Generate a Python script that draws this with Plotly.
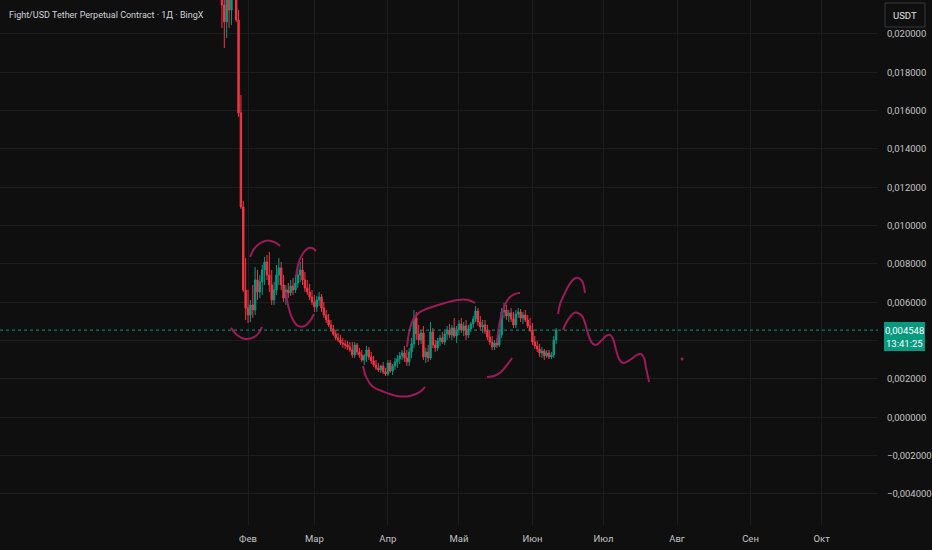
import pandas as pd
import plotly.graph_objects as go

# daily candles, Fight/USDT perp, starting 2026-01-21
start_day = "2026-01-21"

open_ = [0.022296, 0.021513, 0.020626, 0.022035, 0.021252, 0.023339, 0.023861, 0.020730, 0.015878, 0.010974, 0.006644,
         0.005704, 0.005339, 0.005861, 0.005600, 0.007165, 0.006539, 0.007061, 0.007687, 0.008104, 0.007426,
         0.006904, 0.006122, 0.006644, 0.007426, 0.007791, 0.006904, 0.006226, 0.006644, 0.006487, 0.006852,
         0.006644, 0.007009, 0.007426, 0.007687, 0.007165, 0.006748, 0.006539, 0.006278, 0.006017, 0.005756,
         0.006122, 0.006278, 0.005704, 0.005339, 0.005078, 0.004817, 0.004609, 0.004348, 0.004139, 0.004035,
         0.003878, 0.003826, 0.003774, 0.003670, 0.003513, 0.003252, 0.003774, 0.003409, 0.003252, 0.002991,
         0.003200, 0.003513, 0.003148, 0.002939, 0.002730, 0.002574, 0.002470, 0.002678, 0.002365, 0.002261,
         0.002835, 0.002417, 0.002678, 0.002887, 0.003044, 0.003200, 0.003357, 0.003096, 0.002887, 0.003409,
         0.003826, 0.005183, 0.004348, 0.004035, 0.004400, 0.003148, 0.003409, 0.003096, 0.004452, 0.003774,
         0.003617, 0.003983, 0.004139, 0.003930, 0.004348, 0.004557, 0.004296, 0.004661, 0.004243, 0.004557,
         0.004870, 0.004557, 0.004765, 0.004296, 0.004609, 0.004870, 0.005130, 0.005548, 0.004974, 0.004713,
         0.004817, 0.004504, 0.004191, 0.003930, 0.003670, 0.003878, 0.003774, 0.004296, 0.005496, 0.005600,
         0.005287, 0.005443, 0.005130, 0.004817, 0.005391, 0.005496, 0.005183, 0.005339, 0.005078, 0.004765,
         0.004557, 0.003930, 0.003722, 0.003565, 0.003357, 0.003461, 0.003200, 0.003357, 0.003148, 0.003252, 0.004035]

high = [0.023078, 0.022296, 0.022817, 0.023339, 0.023861, 0.024904, 0.024644, 0.021252, 0.016817, 0.011287, 0.008313,
        0.006644, 0.006122, 0.006904, 0.007844, 0.007687, 0.007426, 0.007948, 0.008365, 0.008470, 0.008626,
        0.007687, 0.007061, 0.007948, 0.008313, 0.008104, 0.007426, 0.006904, 0.007009, 0.007165, 0.007270,
        0.007426, 0.007791, 0.008104, 0.008313, 0.007583, 0.007165, 0.006957, 0.006644, 0.006383, 0.006330,
        0.006539, 0.006435, 0.006017, 0.005600, 0.005391, 0.005078, 0.004817, 0.004557, 0.004400, 0.004296,
        0.004139, 0.004035, 0.003983, 0.003930, 0.003930, 0.003930, 0.003878, 0.003617, 0.003513, 0.003304,
        0.003722, 0.003670, 0.003409, 0.003200, 0.002991, 0.002835, 0.002730, 0.002887, 0.002574, 0.002991,
        0.002991, 0.002783, 0.003096, 0.003252, 0.003409, 0.003513, 0.003722, 0.003513, 0.003617, 0.004139,
        0.005600, 0.005496, 0.004817, 0.004557, 0.004765, 0.003617, 0.003774, 0.004974, 0.004661, 0.004035,
        0.004139, 0.004296, 0.004452, 0.004557, 0.004765, 0.004870, 0.004817, 0.005183, 0.004765, 0.005078,
        0.005183, 0.004974, 0.005078, 0.004817, 0.004974, 0.005287, 0.005809, 0.005704, 0.005287, 0.005078,
        0.005078, 0.004817, 0.004557, 0.004243, 0.004035, 0.004139, 0.004557, 0.005704, 0.005965, 0.005861,
        0.005600, 0.005704, 0.005496, 0.005600, 0.005704, 0.005652, 0.005496, 0.005600, 0.005339, 0.005183,
        0.004922, 0.004243, 0.003983, 0.003826, 0.003670, 0.003565, 0.003513, 0.003513, 0.003409, 0.004243, 0.004661]

low = [0.020313, 0.019270, 0.019791, 0.020313, 0.020470, 0.021931, 0.020626, 0.015670, 0.010870, 0.006539, 0.005078,
       0.004922, 0.004974, 0.005183, 0.005339, 0.006122, 0.006226, 0.006383, 0.006904, 0.007165, 0.006539,
       0.005861, 0.005861, 0.006383, 0.006904, 0.006644, 0.006017, 0.005861, 0.006226, 0.006330, 0.006383,
       0.006487, 0.006748, 0.007061, 0.006904, 0.006539, 0.006383, 0.006122, 0.005861, 0.005496, 0.005496,
       0.005809, 0.005496, 0.005183, 0.004922, 0.004713, 0.004452, 0.004243, 0.004035, 0.003930, 0.003774,
       0.003617, 0.003565, 0.003513, 0.003409, 0.003096, 0.003096, 0.003252, 0.003096, 0.002887, 0.002730,
       0.002887, 0.002991, 0.002783, 0.002626, 0.002470, 0.002365, 0.002313, 0.002261, 0.002157, 0.002157,
       0.002313, 0.002209, 0.002470, 0.002574, 0.002783, 0.002991, 0.002887, 0.002678, 0.002678, 0.003096,
       0.003617, 0.004035, 0.003774, 0.003826, 0.002991, 0.002835, 0.002887, 0.002991, 0.003617, 0.003409,
       0.003461, 0.003722, 0.003826, 0.003774, 0.004035, 0.004139, 0.004035, 0.004139, 0.003878, 0.004296,
       0.004400, 0.004243, 0.004035, 0.004139, 0.004452, 0.004661, 0.004974, 0.004765, 0.004557, 0.004400,
       0.004348, 0.004035, 0.003774, 0.003513, 0.003513, 0.003617, 0.003670, 0.004139, 0.005183, 0.005078,
       0.004974, 0.004974, 0.004661, 0.004661, 0.005183, 0.004974, 0.004870, 0.004974, 0.004661, 0.004452,
       0.003774, 0.003565, 0.003409, 0.003148, 0.003096, 0.002991, 0.003096, 0.003044, 0.003044, 0.003096, 0.003826]

close = [0.021513, 0.020626, 0.022035, 0.021252, 0.023339, 0.023861, 0.020730, 0.015878, 0.010974, 0.006644, 0.005704,
         0.005339, 0.005861, 0.005600, 0.007165, 0.006539, 0.007061, 0.007687, 0.008104, 0.007426, 0.006904,
         0.006122, 0.006644, 0.007426, 0.007791, 0.006904, 0.006226, 0.006644, 0.006487, 0.006852, 0.006644,
         0.007009, 0.007426, 0.007687, 0.007165, 0.006748, 0.006539, 0.006278, 0.006017, 0.005756, 0.006122,
         0.006278, 0.005704, 0.005339, 0.005078, 0.004817, 0.004609, 0.004348, 0.004139, 0.004035, 0.003878,
         0.003826, 0.003774, 0.003670, 0.003513, 0.003252, 0.003774, 0.003409, 0.003252, 0.002991, 0.003200,
         0.003513, 0.003148, 0.002939, 0.002730, 0.002574, 0.002470, 0.002678, 0.002365, 0.002261, 0.002835,
         0.002417, 0.002678, 0.002887, 0.003044, 0.003200, 0.003357, 0.003096, 0.002887, 0.003409, 0.003826,
         0.005183, 0.004348, 0.004035, 0.004400, 0.003148, 0.003409, 0.003096, 0.004452, 0.003774, 0.003617,
         0.003983, 0.004139, 0.003930, 0.004348, 0.004557, 0.004296, 0.004661, 0.004243, 0.004557, 0.004870,
         0.004557, 0.004765, 0.004296, 0.004609, 0.004870, 0.005130, 0.005548, 0.004974, 0.004713, 0.004817,
         0.004504, 0.004191, 0.003930, 0.003670, 0.003878, 0.003774, 0.004296, 0.005496, 0.005600, 0.005287,
         0.005443, 0.005130, 0.004817, 0.005391, 0.005496, 0.005183, 0.005339, 0.005078, 0.004765, 0.004557,
         0.003930, 0.003722, 0.003565, 0.003357, 0.003461, 0.003200, 0.003357, 0.003148, 0.003252, 0.004035, 0.004548]

last_price = 0.004548
last_price_text = "0,004548"
countdown_text = "13:41:25"

# hand drawn curves on the chart: (days after 2026-02-01, price)
curve_base = "2026-02-01"
curves = [
    ([-7.17, -4.64, -1.27, 1.69, 4.22, 5.91],
     [0.004661, 0.004296, 0.004087, 0.004139, 0.004348, 0.004713]),
    ([0.84, 2.53, 4.64, 7.17, 9.70, 11.81, 13.50],
     [0.008365, 0.008783, 0.009043, 0.009200, 0.009200, 0.009096, 0.008939]),
    ([20.25, 21.10, 22.78, 24.89, 27.00, 28.69],
     [0.007322, 0.007948, 0.008470, 0.008783, 0.008835, 0.008678]),
    ([16.03, 16.88, 18.57, 21.10, 24.05, 26.16, 27.85],
     [0.006539, 0.005861, 0.005183, 0.004765, 0.004765, 0.005026, 0.005391]),
    ([48.52, 49.79, 52.32, 57.38, 62.87, 68.35, 72.57, 74.68],
     [0.002678, 0.002104, 0.001635, 0.001322, 0.001113, 0.001113, 0.001322, 0.001583]),
    ([67.09, 67.93, 69.62, 72.57, 77.64, 83.12, 88.61, 92.83, 95.78],
     [0.003670, 0.004400, 0.005078, 0.005496, 0.005756, 0.005965, 0.006122, 0.006122, 0.005965]),
    ([105.06, 105.91, 107.59, 110.13, 112.66, 114.77],
     [0.003930, 0.004765, 0.005600, 0.006226, 0.006435, 0.006487]),
    ([100.84, 103.80, 106.75, 109.28, 111.39],
     [0.002104, 0.002157, 0.002365, 0.002730, 0.003096]),
    ([130.80, 131.65, 133.33, 135.44, 137.55, 139.24, 140.93, 141.77, 142.19],
     [0.005391, 0.005913, 0.006383, 0.006904, 0.007218, 0.007270, 0.007113, 0.006800, 0.006487]),
    ([132.91, 134.18, 135.86, 137.55, 139.24, 140.93, 142.19, 143.46, 145.15, 146.84, 148.95, 151.05,
      152.74, 154.01, 155.27, 156.54, 158.23, 161.18, 164.14, 165.82, 167.09, 167.93, 169.20],
     [0.004557, 0.004922, 0.005235, 0.005443, 0.005443, 0.005287, 0.004922, 0.004348, 0.003878, 0.003774,
      0.003983, 0.004243, 0.004296, 0.004087, 0.003513, 0.003044, 0.002835, 0.002991, 0.003252, 0.003304,
      0.003096, 0.002574, 0.001843]),
]
dot_day = [183.12]
dot_price = [0.003044]

month_days = ["2026-02-01", "2026-03-01", "2026-04-01", "2026-05-01", "2026-06-01",
              "2026-07-01", "2026-08-01", "2026-09-01", "2026-10-01"]
month_labels = ["Фев", "Мар", "Апр", "Май", "Июн", "Июл", "Авг", "Сен", "Окт"]

price_ticks = [-0.004, -0.002, 0.0, 0.002, 0.004, 0.006, 0.008, 0.010, 0.012, 0.014, 0.016, 0.018, 0.020]
price_labels = ["−0,004000", "−0,002000", "0,000000", "0,002000", "", "0,006000", "0,008000",
                "0,010000", "0,012000", "0,014000", "0,016000", "0,018000", "0,020000"]

UP = "#089981"
DOWN = "#F23645"
PEN = "#9e1a5a"
BG = "#0f0f0f"
GRID = "#1d1d1d"
TXT = "#c3c3c3"
FONT = "Roboto, Liberation Sans, sans-serif"

dates = pd.date_range(start_day, periods=len(close), freq="D")

fig = go.Figure()
fig.add_trace(go.Candlestick(
    x=dates, open=open_, high=high, low=low, close=close,
    increasing=dict(line=dict(color=UP, width=1), fillcolor=UP),
    decreasing=dict(line=dict(color=DOWN, width=1), fillcolor=DOWN),
    whiskerwidth=0, hoverinfo="skip"
))

base = pd.Timestamp(curve_base)
for days, prices in curves:
    xs = base + pd.to_timedelta(days, unit="D")
    fig.add_trace(go.Scatter(x=xs, y=prices, mode="lines",
                             line=dict(color=PEN, width=2, shape="spline"), hoverinfo="skip"))
fig.add_trace(go.Scatter(x=base + pd.to_timedelta(dot_day, unit="D"), y=dot_price, mode="markers",
                         marker=dict(color=PEN, size=3), hoverinfo="skip"))

# current price dotted line
fig.add_hline(y=last_price, line=dict(color=UP, width=1, dash="dot"))

# price label on the axis
fig.add_shape(type="rect", xref="paper", yref="paper", x0=1.0068, x1=1.0535, y0=0.3314, y1=0.3867,
              fillcolor=UP, line=dict(width=0), layer="above")
fig.add_annotation(x=1.0302, y=0.3714, xref="paper", yref="paper", text=last_price_text, showarrow=False,
                   font=dict(family=FONT, size=9.5, color="white"), xanchor="center", yanchor="middle")
fig.add_annotation(x=1.0302, y=0.3448, xref="paper", yref="paper", text=countdown_text, showarrow=False,
                   font=dict(family=FONT, size=9.5, color="white"), xanchor="center", yanchor="middle")

# currency box
fig.add_shape(type="rect", xref="paper", yref="paper", x0=1.0080, x1=1.0535, y0=0.9486, y1=0.9943,
              fillcolor=BG, line=dict(color="#3a3a3a", width=1), layer="above")
fig.add_annotation(x=1.0308, y=0.9714, xref="paper", yref="paper", text="USDT", showarrow=False,
                   font=dict(family=FONT, size=9.5, color="#e0e0e0"), xanchor="center", yanchor="middle")

fig.add_annotation(x=0.008, y=0.9714, xref="paper", yref="paper",
                   text="Fight/USD Tether Perpetual Contract · 1Д · BingX", showarrow=False,
                   font=dict(family=FONT, size=9, color="#d1d4dc"), xanchor="left", yanchor="middle")

fig.update_layout(
    width=932, height=550,
    margin=dict(l=0, r=54, t=0, b=25),
    paper_bgcolor=BG, plot_bgcolor=BG,
    showlegend=False, hovermode=False, boxgap=0.15,
    font=dict(family=FONT, color=TXT, size=9.5),
)
fig.update_xaxes(
    type="date", range=["2025-10-19 08:40", "2026-10-24 19:00"],
    tickvals=month_days, ticktext=month_labels,
    showgrid=True, gridcolor=GRID, gridwidth=1, zeroline=False, showline=False, ticks="",
    ticklabelstandoff=6,
    rangeslider=dict(visible=False), tickfont=dict(family=FONT, size=9.5, color=TXT),
)
fig.update_yaxes(
    side="right", range=[-0.00562, 0.02177],
    tickvals=price_ticks, ticktext=price_labels,
    showgrid=True, gridcolor=GRID, gridwidth=1, zeroline=False, showline=False, ticks="",
    ticklabelstandoff=8, tickfont=dict(family=FONT, size=9.5, color=TXT),
)

fig.write_html("out.html", config={"displayModeBar": False},
               post_script="document.body.style.margin='0';document.body.style.overflow='hidden';")
